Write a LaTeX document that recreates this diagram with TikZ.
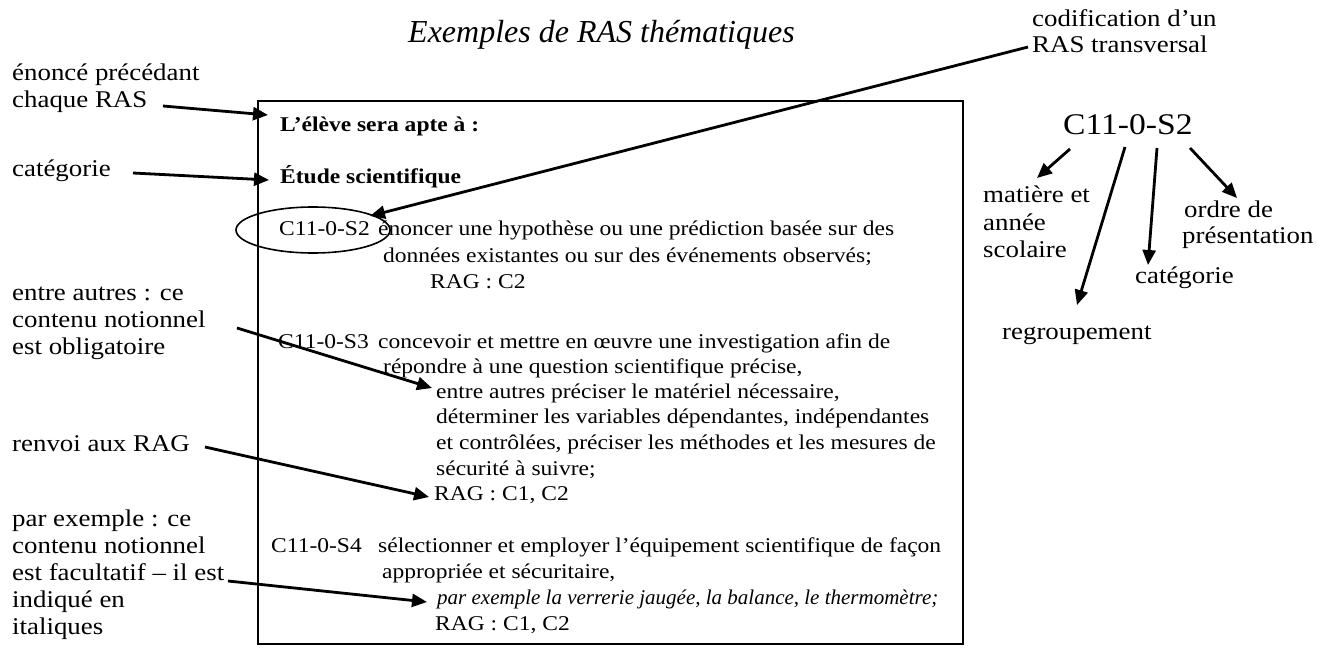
\documentclass[tikz,border=0pt]{standalone}
\usepackage{fontspec}
\setmainfont{Liberation Serif}[FakeStretch=1.12]
\newfontfamily\plainserif{Liberation Serif}
\usetikzlibrary{arrows.meta}
\begin{document}
\begin{tikzpicture}[x=1pt,y=-1pt,
  lbl/.style={anchor=base west,inner sep=0pt,font=\fontsize{24}{27}\selectfont},
  txt/.style={anchor=base west,inner sep=0pt,font=\fontsize{21}{25}\selectfont},
  btxt/.style={txt,font=\fontsize{21}{25}\selectfont\bfseries},
  itxt/.style={txt,font=\plainserif\fontsize{21}{25}\selectfont\itshape},
  arr/.style={line width=2.8pt,-{Triangle[length=15pt,width=13pt]}},
  frame/.style={line width=1.6pt}]
\useasboundingbox (0,0) rectangle (1318,650);
% title
\node[anchor=base west,inner sep=0pt,font=\plainserif\fontsize{32}{36}\selectfont\itshape] (title) at (408,43) {Exemples de RAS thématiques};
% box
\draw[frame] (258,101) rectangle (963,644);
\node[btxt] (eleve) at (280,132) {L’élève sera apte à :};
\node[btxt] (etude) at (280,183) {Étude scientifique};
% S2
\node[txt] (c2) at (279,236) {C11-0-S2};
\draw[line width=1.6pt] (313,230) ellipse [x radius=77pt, y radius=23pt];
\node[txt] (s2a) at (378,236) {énoncer une hypothèse ou une prédiction basée sur des};
\node[txt] (s2b) at (383,262) {données existantes ou sur des événements observés;};
\node[txt] (s2c) at (430,288) {RAG : C2};
% S3
\node[txt] (c3) at (278,348) {C11-0-S3};
\node[txt] (s3a) at (378,348) {concevoir et mettre en œuvre une investigation afin de};
\node[txt] (s3b) at (383,373) {répondre à une question scientifique précise,};
\node[txt] (s3c) at (436,398) {entre autres préciser le matériel nécessaire,};
\node[txt] (s3d) at (436,423) {déterminer les variables dépendantes, indépendantes};
\node[txt] (s3e) at (436,449) {et contrôlées, préciser les méthodes et les mesures de};
\node[txt] (s3f) at (436,475) {sécurité à suivre;};
\node[txt] (s3g) at (434,500) {RAG : C1, C2};
% S4
\node[txt] (c4) at (271,552) {C11-0-S4};
\node[txt] (s4a) at (378,552) {sélectionner et employer l’équipement scientifique de façon};
\node[txt] (s4b) at (382,578) {appropriée et sécuritaire,};
\node[itxt] (s4c) at (437,604) {par exemple la verrerie jaugée, la balance, le thermomètre;};
\node[txt] (s4d) at (435,630) {RAG : C1, C2};
% left labels
\node[lbl] (l1a) at (12,81) {énoncé précédant};
\node[lbl] (l1b) at (12,108) {chaque RAS};
\node[lbl] (l2) at (12,177) {catégorie};
\node[lbl] (l3a) at (12,300) {entre autres : ce};
\node[lbl] (l3b) at (12,327) {contenu notionnel};
\node[lbl] (l3c) at (12,354) {est obligatoire};
\node[lbl] (l4) at (12,451) {renvoi aux RAG};
\node[lbl] (l5a) at (12,526) {par exemple : ce};
\node[lbl] (l5b) at (12,553) {contenu notionnel};
\node[lbl] (l5c) at (12,580) {est facultatif – il est};
\node[lbl] (l5d) at (12,607) {indiqué en};
\node[lbl] (l5e) at (12,634) {italiques};
% right side
\node[lbl] (cod1) at (1032,27) {codification d’un};
\node[lbl] (cod2) at (1032,53) {RAS transversal};
\node[anchor=base west,inner sep=0pt,font=\fontsize{30}{34}\selectfont] (big) at (1063,135) {C11-0-S2};
\node[lbl] (r1a) at (983,203) {matière et};
\node[lbl] (r1b) at (983,230) {année};
\node[lbl] (r1c) at (983,257) {scolaire};
\node[lbl] (r2a) at (1184,217) {ordre de};
\node[lbl] (r2b) at (1182,243) {présentation};
\node[lbl] (r3) at (1135,283) {catégorie};
\node[lbl] (r4) at (1002,339) {regroupement};
% connector end points
\coordinate (a1s) at (163,106); \coordinate (a1e) at (268,115);
\coordinate (a2s) at (133,173); \coordinate (a2e) at (269,180);
\coordinate (cs) at (1028,47); \coordinate (ce) at (370,216);
\coordinate (a3s) at (237,328); \coordinate (a3e) at (432,388);
\coordinate (a4s) at (205,447); \coordinate (a4e) at (429,497);
\coordinate (a5s) at (228,581); \coordinate (a5e) at (427,602);
\coordinate (b1s) at (1070,149); \coordinate (b1e) at (1037,178);
\coordinate (b2s) at (1125,147); \coordinate (b2e) at (1077,305);
\coordinate (b3s) at (1157,148); \coordinate (b3e) at (1148,265);
\coordinate (b4s) at (1190,148); \coordinate (b4e) at (1237,198);
\draw[arr] (a1s) -- (a1e);
\draw[arr] (a2s) -- (a2e);
\draw[arr] (cs) -- (ce);
\draw[arr] (a3s) -- (a3e);
\draw[arr] (a4s) -- (a4e);
\draw[arr] (a5s) -- (a5e);
\draw[arr] (b1s) -- (b1e);
\draw[arr] (b2s) -- (b2e);
\draw[arr] (b3s) -- (b3e);
\draw[arr] (b4s) -- (b4e);
\end{tikzpicture}
\end{document}
